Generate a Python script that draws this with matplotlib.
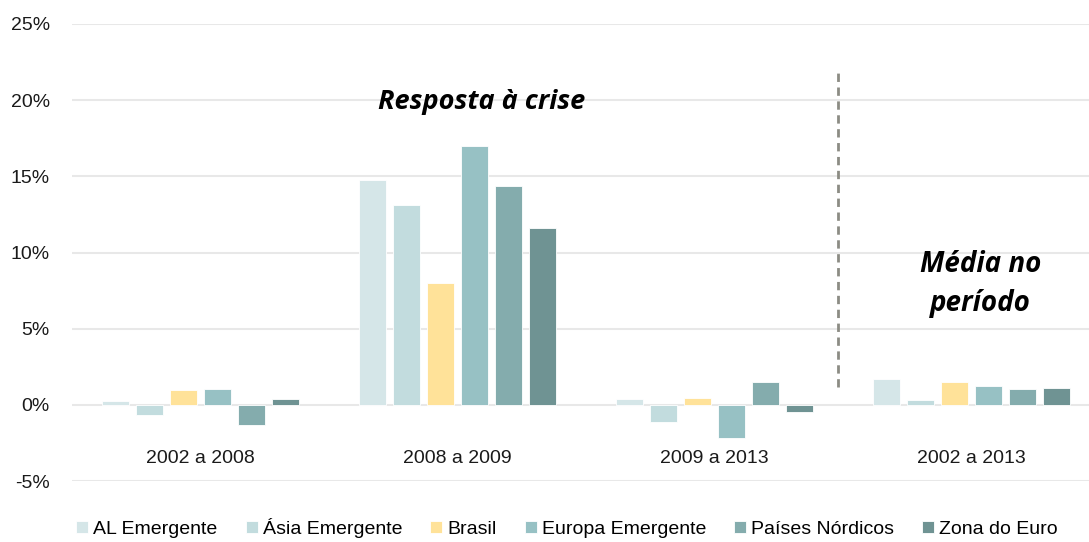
import numpy as np
import matplotlib
matplotlib.use("Agg")
import matplotlib.pyplot as plt

periods = ["2002 a 2008", "2008 a 2009", "2009 a 2013", "2002 a 2013"]
series = ["AL Emergente", "Ásia Emergente", "Brasil", "Europa Emergente",
          "Países Nórdicos", "Zona do Euro"]
al_emergente = [0.26, 14.76, 0.41, 1.69]
asia_emergente = [-0.70, 13.10, -1.10, 0.33]
brasil = [1.00, 8.00, 0.46, 1.50]
europa_emergente = [1.03, 17.00, -2.20, 1.25]
paises_nordicos = [-1.30, 14.35, 1.50, 1.07]
zona_euro = [0.40, 11.60, -0.44, 1.12]

colors = ["#D5E6E8", "#C2DCDE", "#FFE299", "#97C1C4", "#84ACAD", "#6F9393"]

plt.rcParams['font.family'] = ['Liberation Sans', 'DejaVu Sans']


def main():
    values = [al_emergente, asia_emergente, brasil, europa_emergente,
              paises_nordicos, zona_euro]

    fig = plt.figure(figsize=(10.89, 5.42), dpi=100)
    ax = fig.add_axes([72 / 1089, 61 / 542, 1028 / 1089, 457 / 542])

    x = np.arange(len(periods))
    step = 0.132
    width = 0.105
    for i, (name, vals) in enumerate(zip(series, values)):
        ax.bar(x + (i - 2.5) * step, vals, width, color=colors[i],
               edgecolor="white", linewidth=0.6, label=name, zorder=3)

    ax.set_xlim(-0.5, 3.5)
    ax.set_ylim(-5, 25)
    ax.set_yticks(np.arange(-5, 26, 5))
    ax.set_yticklabels([f"{v}%" for v in range(-5, 26, 5)], fontsize=14, color="#1a1a1a")
    ax.tick_params(axis="y", length=0, pad=16)
    ax.set_xticks([])
    ax.grid(axis="y", color="#E8E8E8", linewidth=1.5, zorder=0)
    for s in ax.spines.values():
        s.set_visible(False)

    # category labels sit just under the zero line, inside the plot area
    for xi, lab in zip(x, periods):
        ax.text(xi, -3.5, lab, ha="center", va="center", fontsize=14, color="#1a1a1a")

    ax.plot([2.48, 2.48], [1.18, 21.85], color="#8C8C84", linewidth=2,
            linestyle=(0, (3, 2)), zorder=4)

    ax.text(1.093, 19.9, "Resposta à crise", ha="center", va="center",
            fontsize=19.5, fontweight="bold", fontstyle="italic", family="Open Sans")
    ax.text(3.035, 7.95, "Média no\nperíodo", ha="center", va="center",
            fontsize=20, fontweight="bold", fontstyle="italic", family="Open Sans",
            linespacing=1.45)

    fig.legend(loc="center", bbox_to_anchor=(567 / 1089, 14 / 542), ncol=6,
               frameon=False, fontsize=14, handlelength=0.62, handleheight=0.62,
               handletextpad=0.25, columnspacing=1.45, borderpad=0)

    fig.savefig("out.png", dpi=100)


if __name__ == "__main__":
    main()
